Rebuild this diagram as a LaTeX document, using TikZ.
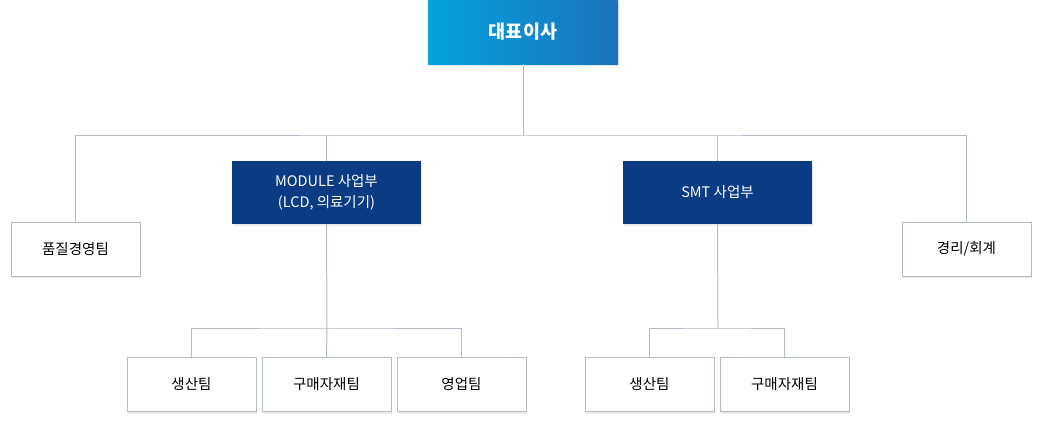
\documentclass[tikz,border=0pt]{standalone}
\usepackage{fontspec}
\setmainfont{Noto Sans CJK KR}
\usetikzlibrary{shadows}

\definecolor{lineg}{HTML}{B3BBC8}
\definecolor{navy}{HTML}{0B3C83}
\definecolor{skyl}{HTML}{06A2DF}
\definecolor{skyr}{HTML}{1A73BC}

\tikzset{
  box/.style={draw=lineg, line width=1pt, fill=white, inner sep=0pt,
    minimum width=129pt, minimum height=54pt, font=\fontsize{14.5}{17}\selectfont,
    drop shadow={shadow xshift=0.5pt, shadow yshift=-2pt, fill=black, opacity=0.08}},
  divbox/.style={fill=navy, text=white, inner sep=0pt, align=center,
    minimum width=189pt, minimum height=63pt, font=\fontsize{14.5}{21}\selectfont,
    drop shadow={shadow xshift=0.5pt, shadow yshift=-2pt, fill=black, opacity=0.08}},
  ceobox/.style={left color=skyl, right color=skyr, text=white, inner sep=0pt,
    minimum width=190pt, minimum height=64pt, font=\fontsize{18.5}{20}\selectfont\bfseries,
    drop shadow={shadow xshift=0.5pt, shadow yshift=-2pt, fill=black, opacity=0.1}},
  link/.style={draw=lineg, line width=1pt}
}

\begin{document}
\begin{tikzpicture}[x=1pt,y=-1pt]
  \useasboundingbox (0,0) rectangle (1044,421);

  % junctions
  \coordinate (bus) at (523,135);
  \coordinate (mbus) at (327,328);
  \coordinate (sbus) at (718,328);

  % top and second row
  \node[ceobox] (ceo) at (523,32) {대표이사};
  \node[box] (qm) at (75.5,249) {품질경영팀};
  \node[divbox] (mod) at (326.5,192.5) {MODULE 사업부\\(LCD, 의료기기)};
  \node[divbox] (smt) at (717.5,192.5) {SMT 사업부};
  \node[box] (acc) at (966.5,249) {경리/회계};

  % teams
  \node[box] (mp) at (191.5,384.5) {생산팀};
  \node[box] (mb) at (326.5,384.5) {구매자재팀};
  \node[box] (ms) at (461.5,384.5) {영업팀};
  \node[box] (sp) at (649.5,384.5) {생산팀};
  \node[box] (sb) at (784.5,384.5) {구매자재팀};

  \draw[link] (ceo.south) -- (bus);
  \draw[link] (qm.north) |- (bus) -| (acc.north);
  \draw[link] (mod.north) -- (mod.north |- bus);
  \draw[link] (smt.north) -- (smt.north |- bus);

  \draw[link] (mod.south) -- (mbus);
  \draw[link] (mp.north) |- (mbus) -| (ms.north);
  \draw[link] (mbus) -- (mb.north);

  \draw[link] (smt.south) -- (sbus);
  \draw[link] (sp.north) |- (sbus) -| (sb.north);
\end{tikzpicture}
\end{document}
